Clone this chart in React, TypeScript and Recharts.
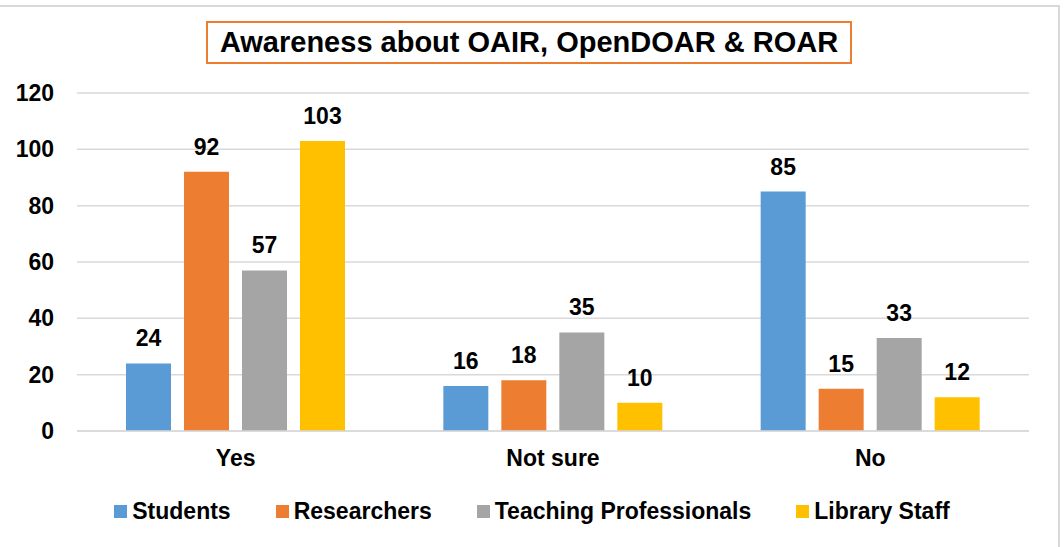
import { Bar, BarChart, CartesianGrid, LabelList, XAxis, YAxis } from "recharts";

const categories = ["Yes", "Not sure", "No"];
const students = [24, 16, 85];
const researchers = [92, 18, 15];
const teaching = [57, 35, 33];
const library = [103, 10, 12];
const yTicks = [0, 20, 40, 60, 80, 100, 120];

const series = [
  { key: "students", name: "Students", color: "#5B9BD5" },
  { key: "researchers", name: "Researchers", color: "#ED7D31" },
  { key: "teaching", name: "Teaching Professionals", color: "#A5A5A5" },
  { key: "library", name: "Library Staff", color: "#FFC000" },
];

const data = categories.map((c, i) => ({
  name: c,
  students: students[i],
  researchers: researchers[i],
  teaching: teaching[i],
  library: library[i],
}));

const font = "'Liberation Sans', Arial, sans-serif";
const tickStyle = { fontSize: 23, fontWeight: 700, fill: "#000", fontFamily: font };

function LegendRow() {
  return (
    <div
      style={{
        position: "absolute",
        left: 0,
        top: 497,
        width: 1064,
        display: "flex",
        justifyContent: "center",
        gap: 45,
        fontFamily: font,
        fontWeight: 700,
        fontSize: 23,
        lineHeight: "28px",
      }}
    >
      {series.map((s) => (
        <div key={s.key} style={{ display: "flex", alignItems: "center" }}>
          <span style={{ width: 13, height: 13, background: s.color, marginRight: 5, display: "inline-block" }} />
          <span style={{ color: "#000" }}>{s.name}</span>
        </div>
      ))}
    </div>
  );
}

export default function App() {
  return (
    <div style={{ position: "absolute", left: 0, top: 0, width: 1064, height: 547, overflow: "hidden", background: "#fff" }}>
      <div style={{ position: "absolute", left: -4, top: 5, width: 1064, height: 600, border: "2px solid #d9d9d9", boxSizing: "border-box" }} />
      <BarChart
        width={1064}
        height={547}
        data={data}
        margin={{ top: 93, right: 35, bottom: 0, left: 0 }}
        barSize={45}
        barGap={13}
      >
        <CartesianGrid vertical={false} stroke="#d9d9d9" strokeWidth={1.5} />
        <XAxis
          dataKey="name"
          height={116}
          tick={tickStyle}
          tickLine={false}
          tickSize={0}
          tickMargin={19}
          axisLine={{ stroke: "#d9d9d9", strokeWidth: 1.5 }}
        />
        <YAxis
          width={77}
          domain={[0, 120]}
          ticks={yTicks}
          tick={tickStyle}
          tickLine={false}
          tickSize={0}
          tickMargin={23}
          axisLine={false}
        />
        {series.map((s) => (
          <Bar key={s.key} dataKey={s.key} name={s.name} fill={s.color} isAnimationActive={false}>
            <LabelList dataKey={s.key} position="top" offset={17} style={tickStyle} />
          </Bar>
        ))}
      </BarChart>
      <LegendRow />
      <div
        style={{
          position: "absolute",
          left: 206,
          top: 21,
          width: 646,
          height: 43,
          border: "2px solid #ED7D31",
          boxSizing: "border-box",
          display: "flex",
          alignItems: "center",
          justifyContent: "center",
          fontFamily: font,
          fontWeight: 700,
          fontSize: 29,
          color: "#000",
          background: "#fff",
        }}
      >
        Awareness about OAIR, OpenDOAR &amp; ROAR
      </div>
    </div>
  );
}
